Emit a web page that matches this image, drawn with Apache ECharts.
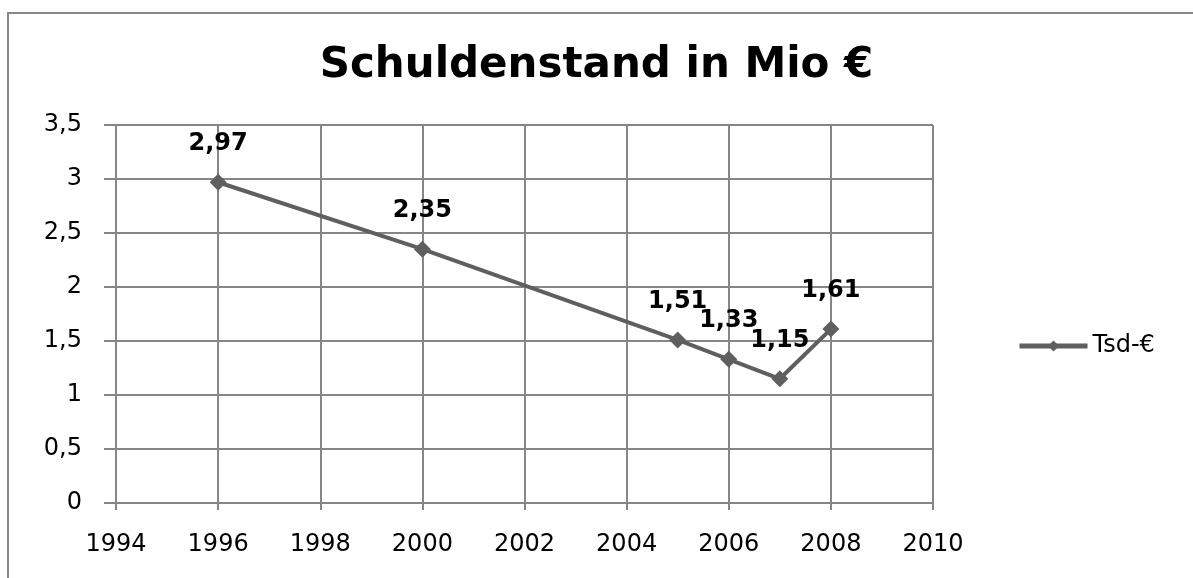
<!DOCTYPE html>
<html>
<head>
<meta charset="utf-8">
<script src="https://cdn.jsdelivr.net/npm/echarts@6/dist/echarts.min.js"></script>
<style>
  html, body { margin: 0; padding: 0; background: #fff; }
  #frame { position: absolute; left: 7px; top: 12px; width: 1200px; height: 580px;
           border-left: 2px solid #888; border-top: 2px solid #888; }
  #chart { position: absolute; left: 0; top: 0; width: 1193px; height: 578px; }
</style>
</head>
<body>
<div id="frame"></div>
<div id="chart"></div>
<script>
const years = [1996, 2000, 2005, 2006, 2007, 2008];
const values = [2.97, 2.35, 1.51, 1.33, 1.15, 1.61];
const seriesName = 'Tsd-€';
const titleText = 'Schuldenstand in Mio €';

const fmt = v => String(v).replace('.', ',');

const chart = echarts.init(document.getElementById('chart'));

const option = {
  animation: false,
  title: {
    text: titleText,
    left: 'center',
    top: 40,
    textStyle: {
      fontFamily: 'DejaVu Sans',
      fontWeight: 'bold',
      fontSize: 42,
      color: '#000'
    }
  },
  legend: {
    data: [seriesName],
    left: 1012,
    top: 329,
    itemWidth: 68,
    itemHeight: 14,
    itemGap: 7,
    lineStyle: { width: 5, color: '#5f5f5f' },
    itemStyle: { color: '#5f5f5f' },
    textStyle: { fontFamily: 'DejaVu Sans', fontSize: 24, color: '#000' }
  },
  grid: {
    left: 116,
    right: 260,
    top: 125,
    bottom: 75
  },
  xAxis: {
    type: 'value',
    min: 1994,
    max: 2010,
    interval: 2,
    axisLine: { show: true, lineStyle: { color: '#868686', width: 2 } },
    axisTick: { show: true, length: 7, lineStyle: { color: '#868686', width: 2 } },
    splitLine: { show: true, lineStyle: { color: '#868686', width: 2 } },
    axisLabel: {
      margin: 30,
      fontFamily: 'DejaVu Sans',
      fontSize: 24,
      color: '#000',
      formatter: v => String(v)
    }
  },
  yAxis: {
    type: 'value',
    min: 0,
    max: 3.5,
    interval: 0.5,
    axisLine: { show: true, lineStyle: { color: '#868686', width: 2 } },
    axisTick: { show: true, inside: false, length: 12, lineStyle: { color: '#868686', width: 2 } },
    splitLine: { show: true, lineStyle: { color: '#868686', width: 2 } },
    axisLabel: {
      margin: 34,
      fontFamily: 'DejaVu Sans',
      fontSize: 24,
      color: '#000',
      formatter: fmt
    }
  },
  series: [{
    name: seriesName,
    type: 'line',
    data: years.map((y, i) => [y, values[i]]),
    symbol: 'diamond',
    symbolSize: 17,
    itemStyle: { color: '#5f5f5f' },
    lineStyle: { color: '#5f5f5f', width: 4 },
    label: {
      show: true,
      position: 'top',
      distance: 18,
      fontFamily: 'DejaVu Sans',
      fontWeight: 'bold',
      fontSize: 24,
      color: '#000',
      formatter: p => fmt(p.value[1])
    }
  }]
};

chart.setOption(option);
</script>
</body>
</html>
